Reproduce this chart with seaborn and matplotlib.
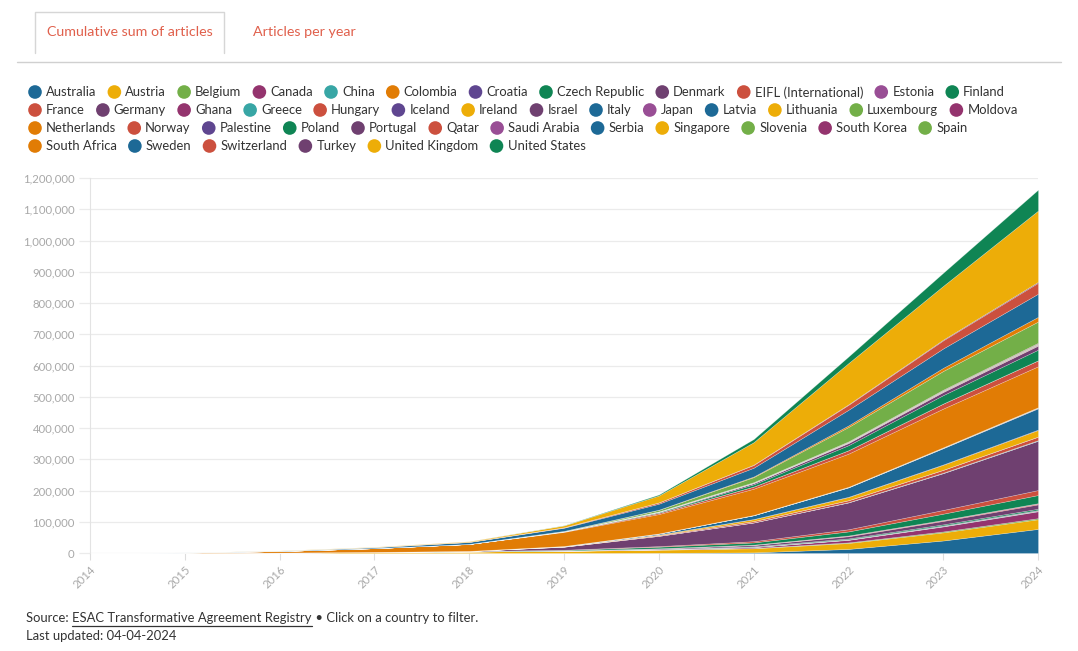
import matplotlib
matplotlib.use("Agg")
import pandas as pd
import seaborn as sns
import matplotlib.pyplot as plt
from matplotlib.patches import Circle
from matplotlib.lines import Line2D
from matplotlib.ticker import FuncFormatter

years = list(range(2014, 2025))

countries = [
    "Australia", "Austria", "Belgium", "Canada", "China", "Colombia", "Croatia",
    "Czech Republic", "Denmark", "EIFL (International)", "Estonia", "Finland",
    "France", "Germany", "Ghana", "Greece", "Hungary", "Iceland", "Ireland",
    "Israel", "Italy", "Japan", "Latvia", "Lithuania", "Luxembourg", "Moldova",
    "Netherlands", "Norway", "Palestine", "Poland", "Portugal", "Qatar",
    "Saudi Arabia", "Serbia", "Singapore", "Slovenia", "South Korea", "Spain",
    "South Africa", "Sweden", "Switzerland", "Turkey", "United Kingdom",
    "United States",
]
# how many legend entries sit on each line of the legend
legend_rows = [12, 14, 12, 6]

# cumulative sum of articles per country, thousands, 2014 -> 2024
australia = [0, 0, 0, 0, 0, 0, 0.5, 2, 13, 40, 77]
austria = [0, 0.5, 1.5, 3, 5, 7, 10, 13, 19, 26, 31]
belgium = [0, 0, 0, 0, 0, 0, 0.3, 1, 2, 3, 3.5]
canada = [0, 0, 0, 0, 0, 0.3, 1, 3, 8, 16, 22]
china = [0, 0, 0, 0, 0, 0, 0, 0.3, 0.8, 1.2, 1.5]
colombia = [0, 0, 0, 0, 0, 0, 0, 0.1, 0.3, 0.5, 0.8]
croatia = [0, 0, 0, 0, 0, 0, 0.2, 0.5, 1, 1.5, 1.8]
czech_republic = [0, 0, 0, 0, 0, 0, 0.5, 1.5, 2.5, 3.5, 4]
denmark = [0, 0, 0, 0, 0, 0.5, 2, 4, 7, 11, 14]
eifl = [0, 0, 0, 0, 0, 0, 0.3, 0.8, 1.5, 2, 2.5]
estonia = [0, 0, 0, 0, 0, 0.1, 0.3, 0.6, 0.9, 1.1, 1.3]
finland = [0, 0, 0, 0.5, 1, 2, 5, 7, 13, 20, 26]
france = [0, 0, 0, 0, 0.2, 0.5, 2, 4, 7, 12, 16]
germany = [0, 0, 0, 0, 0.5, 10, 33, 60, 86, 118, 158]
ghana = [0, 0, 0, 0, 0, 0, 0, 0, 0, 0.05, 0.1]
greece = [0, 0, 0, 0, 0, 0, 0, 0.3, 0.8, 1.2, 1.6]
hungary = [0, 0, 0, 0, 0, 0.5, 2, 4, 6, 9, 11]
iceland = [0, 0, 0, 0, 0, 0, 0.1, 0.2, 0.3, 0.4, 0.5]
ireland = [0, 0, 0, 0, 0, 0.5, 2, 6, 10, 16, 21]
israel = [0, 0, 0, 0, 0, 0, 0.2, 0.5, 0.8, 1, 1.3]
italy = [0, 0, 0, 0, 0, 1, 3, 12, 30, 52, 68]
japan = [0, 0, 0, 0, 0, 0, 0, 0.2, 0.6, 1, 1.5]
latvia = [0, 0, 0, 0, 0, 0, 0, 0.1, 0.3, 0.4, 0.5]
lithuania = [0, 0, 0, 0, 0, 0, 0.1, 0.3, 0.5, 0.7, 0.8]
luxembourg = [0, 0, 0, 0, 0, 0, 0.1, 0.3, 0.5, 0.6, 0.7]
moldova = [0, 0, 0, 0, 0, 0, 0, 0, 0.05, 0.1, 0.1]
netherlands = [0, 1, 5, 12, 22, 45, 62, 84, 106, 124, 131]
norway = [0, 0, 0, 0.2, 0.5, 1.5, 4, 7, 11, 16, 19]
palestine = [0, 0, 0, 0, 0, 0, 0, 0, 0.05, 0.1, 0.1]
poland = [0, 0, 0, 0, 0, 0.5, 2, 7, 16, 27, 34]
portugal = [0, 0, 0, 0, 0, 0.3, 1.5, 4, 7, 10, 13]
qatar = [0, 0, 0, 0, 0, 0, 0.2, 0.6, 1, 1.3, 1.5]
saudi_arabia = [0, 0, 0, 0, 0, 0, 0, 0.3, 0.7, 1.1, 1.5]
serbia = [0, 0, 0, 0, 0, 0, 0.3, 0.6, 0.9, 1.2, 1.5]
singapore = [0, 0, 0, 0, 0, 0, 0, 0.2, 0.5, 0.8, 1]
slovenia = [0, 0, 0, 0, 0, 0.1, 0.4, 0.8, 1.1, 1.3, 1.5]
south_korea = [0, 0, 0, 0, 0, 0, 0.2, 0.6, 1.1, 1.6, 2]
spain = [0, 0, 0, 0, 0, 1, 5, 16, 46, 60, 68]
south_africa = [0, 0, 0, 0, 0, 0, 0.5, 2, 5, 10, 15]
sweden = [0, 0.3, 1, 3, 6, 10, 19, 28, 50, 62, 74]
switzerland = [0, 0, 0, 0.2, 0.5, 1.5, 4, 9, 16, 26, 35]
turkey = [0, 0, 0, 0, 0, 0, 0.3, 0.8, 1.5, 2.3, 3]
united_kingdom = [0, 0, 0.5, 1, 2, 6, 22, 72, 132, 172, 228]
united_states = [0, 0, 0, 0, 0, 0.5, 3, 10, 21, 42, 67]

series = [
    australia, austria, belgium, canada, china, colombia, croatia,
    czech_republic, denmark, eifl, estonia, finland, france, germany, ghana,
    greece, hungary, iceland, ireland, israel, italy, japan, latvia, lithuania,
    luxembourg, moldova, netherlands, norway, palestine, poland, portugal,
    qatar, saudi_arabia, serbia, singapore, slovenia, south_korea, spain,
    south_africa, sweden, switzerland, turkey, united_kingdom, united_states,
]

# CARTO prism colours, same assignment as the original legend
prism = {
    "indigo": "#5F4690", "blue": "#1D6996", "teal": "#38A6A5",
    "dgreen": "#0F8554", "green": "#73AF48", "yellow": "#EDAD08",
    "orange": "#E17C05", "red": "#CC503E", "magenta": "#94346E",
    "purple": "#6F4070", "pink": "#994E95",
}
color_names = [
    "blue", "yellow", "green", "magenta", "teal", "orange", "indigo",
    "dgreen", "purple", "red", "pink", "dgreen", "red", "purple", "magenta",
    "teal", "red", "indigo", "yellow", "purple", "blue", "pink", "blue",
    "yellow", "green", "magenta", "orange", "red", "indigo", "dgreen",
    "purple", "red", "pink", "blue", "yellow", "green", "magenta", "green",
    "orange", "blue", "red", "purple", "yellow", "dgreen",
]
palette = sns.color_palette([prism[c] for c in color_names])

ACCENT = "#e0604c"
TEXT = "#333333"
AXIS_TEXT = "#a8a8a8"
GRID = "#ebebeb"
FS = 9.4  # legend / footer text size

sns.set_theme(style="white")
plt.rcParams["font.family"] = ["Lato", "DejaVu Sans"]

# long table -> wide table in legend order
rows = []
for name, vals in zip(countries, series):
    for yr, v in zip(years, vals):
        rows.append({"country": name, "year": yr, "articles": v * 1000})
df = pd.DataFrame(rows)
wide = df.pivot(index="year", columns="country", values="articles")[countries]

W, H = 1078, 651
fig = plt.figure(figsize=(W / 100, H / 100), dpi=100)


def fx(px):
    return px / W


def fy(py):
    return 1 - py / H


# main chart
ax = fig.add_axes([fx(90), fy(553), fx(1038) - fx(90), fy(178) - fy(553)])
ax.stackplot(wide.index, [wide[c].values for c in countries], colors=palette,
             edgecolor=(1, 1, 1, 0.35), linewidth=0.4)
ax.set_xlim(2014, 2024)
ax.set_ylim(0, 1200000)
ax.set_yticks(range(0, 1200001, 100000))
ax.yaxis.set_major_formatter(FuncFormatter(lambda v, p: f"{int(v):,}"))
ax.set_xticks(years)
ax.set_xticklabels([str(y) for y in years], rotation=45, ha="right",
                   rotation_mode="anchor")
ax.grid(axis="y", color=GRID, linewidth=0.9)
ax.set_axisbelow(True)
ax.tick_params(axis="y", length=8, width=0.9, color=GRID, pad=3,
               labelsize=8.2, labelcolor=AXIS_TEXT, left=True)
ax.tick_params(axis="x", length=5, width=0.8, color="#dddddd", pad=3,
               labelsize=8.2, labelcolor=AXIS_TEXT, bottom=True)
for side in ["top", "right", "bottom"]:
    ax.spines[side].set_visible(False)
ax.spines["left"].set_color("#e3e3e3")
ax.spines["left"].set_linewidth(0.8)
ax.set_xlabel("")
ax.set_ylabel("")

# overlay in pixel coordinates for tabs, legend and footer
ov = fig.add_axes([0, 0, 1, 1], facecolor="none")
ov.set_xlim(0, W)
ov.set_ylim(H, 0)
ov.axis("off")

fig.canvas.draw()
renderer = fig.canvas.get_renderer()

# tabs
ov.add_line(Line2D([35, 35, 224, 224], [53, 11.5, 11.5, 53], color="#d6d6d6", lw=1))
ov.add_line(Line2D([17, 1061], [61.5, 61.5], color="#d0d0d0", lw=1))
ov.text(129.5, 31.5, "Cumulative sum of articles", ha="center", va="center",
        fontsize=10.3, color=ACCENT)
ov.text(304, 31.5, "Articles per year", ha="center", va="center",
        fontsize=10.3, color=ACCENT)

# legend, flowed line by line
row_y = [92, 110, 128, 146]
i = 0
for r, n in enumerate(legend_rows):
    x = 28
    for k in range(i, i + n):
        ov.add_patch(Circle((x + 7, row_y[r]), 6.8, color=palette[k], lw=0))
        t = ov.text(x + 18, row_y[r] + 0.5, countries[k], ha="left", va="center",
                    fontsize=FS, color=TEXT)
        x += 18 + t.get_window_extent(renderer).width + 11
    i += n

# footer
y1, y2 = 618, 636
t1 = ov.text(26, y1, "Source: ", ha="left", va="center", fontsize=FS, color=TEXT)
x = 26 + t1.get_window_extent(renderer).width
t2 = ov.text(x, y1, "ESAC Transformative Agreement Registry", ha="left",
             va="center", fontsize=FS, color=TEXT)
w2 = t2.get_window_extent(renderer).width
ov.add_line(Line2D([x, x + w2], [y1 + 7.5, y1 + 7.5], color=TEXT, lw=0.9))
ov.text(x + w2, y1, " \u2022 Click on a country to filter.", ha="left",
        va="center", fontsize=FS, color=TEXT)
ov.text(26, y2, "Last updated: 04-04-2024", ha="left", va="center",
        fontsize=FS, color=TEXT)

fig.savefig("out.png", dpi=100, facecolor="white")
